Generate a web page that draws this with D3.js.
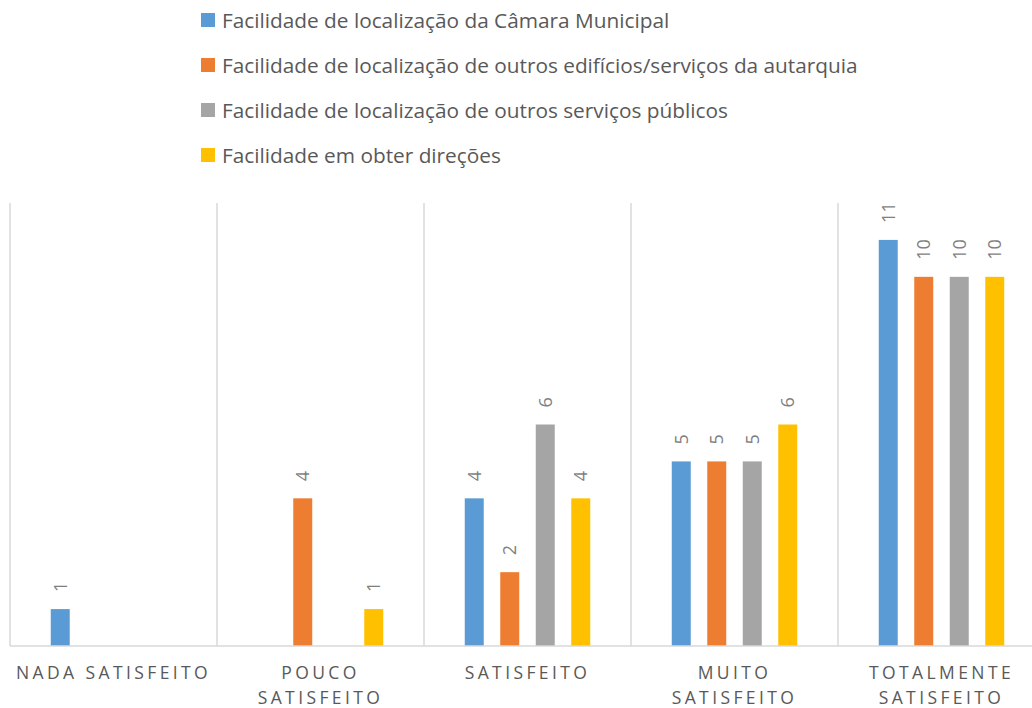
<!DOCTYPE html>
<html>
<head>
<meta charset="utf-8">
<script src="https://cdn.jsdelivr.net/npm/d3@7"></script>
<style>
  body { margin: 0; background: #fff; }
  svg { display: block; font-family: "Open Sans", "Noto Sans", sans-serif; }
</style>
</head>
<body>
<svg id="chart" width="1032" height="708"></svg>
<script>
const categories = [["NADA SATISFEITO"], ["POUCO", "SATISFEITO"], ["SATISFEITO"], ["MUITO", "SATISFEITO"], ["TOTALMENTE", "SATISFEITO"]];
const seriesNames = [
  "Facilidade de localização da Câmara Municipal",
  "Facilidade de localização de outros edifícios/serviços da autarquia",
  "Facilidade de localização de outros serviços públicos",
  "Facilidade em obter direções"
];
const colors = ["#5b9bd5", "#ed7d31", "#a5a5a5", "#ffc000"];
// null = no bar
const camara = [1, null, 4, 5, 11];
const edificios = [null, 4, 2, 5, 10];
const servicos = [null, null, 6, 5, 10];
const direcoes = [null, 1, 4, 6, 10];
const series = [camara, edificios, servicos, direcoes];

const svg = d3.select("#chart");
const plotLeft = 10, plotRight = 1045, plotTop = 203, plotBottom = 646;

const x0 = d3.scaleBand().domain(d3.range(categories.length)).range([plotLeft, plotRight]);
const x1 = d3.scaleBand().domain(d3.range(series.length)).range([0, x0.bandwidth()])
  .paddingInner(0.465).paddingOuter(1.148);
const y = d3.scaleLinear().domain([0, 12]).range([plotBottom, plotTop]);

// separators
svg.append("g").selectAll("line")
  .data(d3.range(categories.length + 1))
  .join("line")
  .attr("x1", i => plotLeft + i * x0.step()).attr("x2", i => plotLeft + i * x0.step())
  .attr("y1", plotTop).attr("y2", plotBottom)
  .attr("stroke", "#d9d9d9").attr("stroke-width", 1.5);

// bars
const groups = svg.append("g").selectAll("g")
  .data(categories.map((c, i) => i))
  .join("g")
  .attr("transform", i => `translate(${x0(i)},0)`);

groups.selectAll("rect")
  .data(i => series.map((s, k) => ({k, v: s[i]})).filter(d => d.v != null))
  .join("rect")
  .attr("x", d => x1(d.k))
  .attr("width", x1.bandwidth())
  .attr("y", d => y(d.v))
  .attr("height", d => y(0) - y(d.v))
  .attr("fill", d => colors[d.k]);

groups.selectAll("text")
  .data(i => series.map((s, k) => ({k, v: s[i]})).filter(d => d.v != null))
  .join("text")
  .attr("transform", d => `translate(${x1(d.k) + x1.bandwidth() / 2 + 6.5},${y(d.v) - 17}) rotate(-90)`)
  .attr("fill", "#7f7f7f")
  .attr("font-size", 18)
  .text(d => d.v);

// baseline
svg.append("line")
  .attr("x1", plotLeft).attr("x2", 1032)
  .attr("y1", plotBottom).attr("y2", plotBottom)
  .attr("stroke", "#d9d9d9").attr("stroke-width", 1.5);

// category labels
const catLabels = svg.append("g").selectAll("text")
  .data(categories)
  .join("text")
  .attr("x", (c, i) => x0(i) + x0.bandwidth() / 2)
  .attr("y", 679)
  .attr("text-anchor", "middle")
  .attr("fill", "#595959")
  .attr("font-size", 17.5)
  .attr("letter-spacing", 3.4);
catLabels.selectAll("tspan")
  .data(c => c)
  .join("tspan")
  .attr("x", function() { return this.parentNode.getAttribute("x"); })
  .attr("dy", (t, j) => j === 0 ? 0 : 25)
  .text(t => t);

// legend
const legend = svg.append("g").selectAll("g")
  .data(seriesNames)
  .join("g")
  .attr("transform", (n, i) => `translate(201,${13 + i * 45})`);
legend.append("rect").attr("width", 14).attr("height", 14).attr("fill", (n, i) => colors[i]);
legend.append("text")
  .attr("x", 21).attr("y", 14.5)
  .attr("fill", "#595959")
  .attr("font-size", 20.8)
  .text(n => n);
</script>
</body>
</html>
